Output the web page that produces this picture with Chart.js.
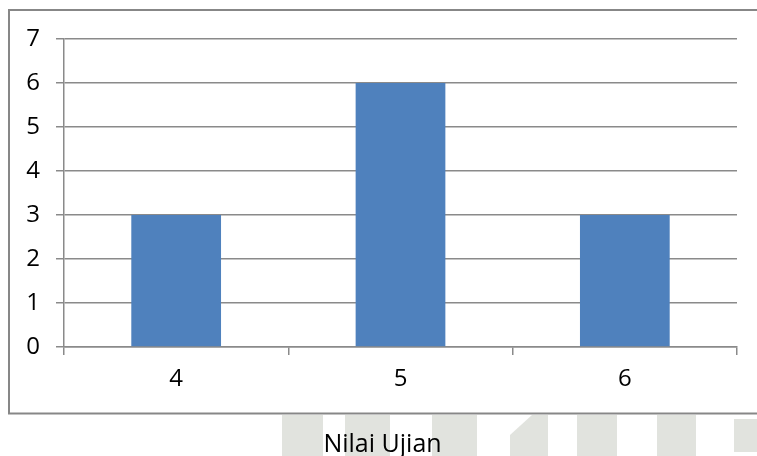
<!DOCTYPE html>
<html>
<head>
<meta charset="utf-8">
<script src="https://cdn.jsdelivr.net/npm/chart.js@4"></script>
<style>
  html, body { margin: 0; padding: 0; background: #ffffff; }
  #wrap { position: relative; width: 757px; height: 456px; overflow: hidden; }
  canvas { display: block; }
</style>
</head>
<body>
<div id="wrap"><canvas id="c" width="757" height="456"></canvas></div>
<script>
// Score categories and how many students got each score
const categories = ['4', '5', '6'];
const frequencies = [3, 6, 3];
const yMin = 0;
const yMax = 7;
const yStep = 1;
const axisTitle = 'Nilai Ujian';

const FONT = '"Open Sans", "Liberation Sans", sans-serif';
const LINE = '#8a8a8a';

// Faint grey shapes behind the lower edge of the page
const backdropShapes = [
  [[282, 415], [323, 415], [323, 456], [282, 456]],
  [[345, 415], [390, 415], [390, 456], [345, 456]],
  [[432, 415], [477, 415], [477, 456], [432, 456]],
  [[510, 435], [532, 415], [548, 415], [548, 456], [510, 456]],
  [[577, 415], [617, 415], [617, 456], [577, 456]],
  [[657, 415], [696, 415], [696, 456], [657, 456]],
  [[734, 419], [757, 419], [757, 452], [734, 452]]
];

const framePlugin = {
  id: 'frame',
  beforeDraw(chart) {
    const ctx = chart.ctx;
    ctx.save();
    ctx.fillStyle = '#ffffff';
    ctx.fillRect(0, 0, chart.width, chart.height);
    ctx.fillStyle = '#e1e3de';
    backdropShapes.forEach(pts => {
      ctx.beginPath();
      pts.forEach(([x, y], i) => i ? ctx.lineTo(x, y) : ctx.moveTo(x, y));
      ctx.closePath();
      ctx.fill();
    });
    // outer chart border (open on the right)
    ctx.strokeStyle = '#878787';
    ctx.lineWidth = 2;
    ctx.beginPath();
    ctx.moveTo(chart.width + 5, 10);
    ctx.lineTo(9, 10);
    ctx.lineTo(9, 413.5);
    ctx.lineTo(chart.width + 5, 413.5);
    ctx.stroke();
    ctx.restore();
  },
  afterDraw(chart) {
    const ctx = chart.ctx;
    const area = chart.chartArea;
    ctx.save();
    ctx.fillStyle = '#000000';
    ctx.font = '25px ' + FONT;
    ctx.textAlign = 'center';
    ctx.textBaseline = 'alphabetic';
    ctx.fillText(axisTitle, (area.left + area.right) / 2 - 18, 452);
    ctx.restore();
  }
};

new Chart(document.getElementById('c'), {
  type: 'bar',
  data: {
    labels: categories,
    datasets: [{
      data: frequencies,
      backgroundColor: '#4f81bd',
      borderWidth: 0,
      barPercentage: 0.4,
      categoryPercentage: 1.0
    }]
  },
  options: {
    responsive: false,
    animation: false,
    devicePixelRatio: 1,
    layout: { padding: { top: 39, right: 20, bottom: 0, left: 0 } },
    plugins: {
      legend: { display: false },
      tooltip: { enabled: false },
      title: { display: false }
    },
    scales: {
      x: {
        grid: {
          display: true,
          drawOnChartArea: false,
          drawTicks: true,
          tickLength: 8,
          color: LINE,
          lineWidth: 1.5,
          offset: true
        },
        border: { display: true, color: LINE, width: 1.5 },
        ticks: {
          color: '#000000',
          font: { family: FONT, size: 24 },
          padding: 10,
          maxRotation: 0
        },
        afterFit(scale) { scale.height = 109; }
      },
      y: {
        min: yMin,
        max: yMax,
        grid: {
          color: LINE,
          lineWidth: 1.5,
          tickLength: 8,
          drawTicks: true
        },
        border: { display: true, color: LINE, width: 1.5 },
        ticks: {
          stepSize: yStep,
          color: '#000000',
          font: { family: FONT, size: 24 },
          padding: 16
        },
        afterFit(scale) { scale.width = 64; }
      }
    }
  },
  plugins: [framePlugin]
});
</script>
</body>
</html>
